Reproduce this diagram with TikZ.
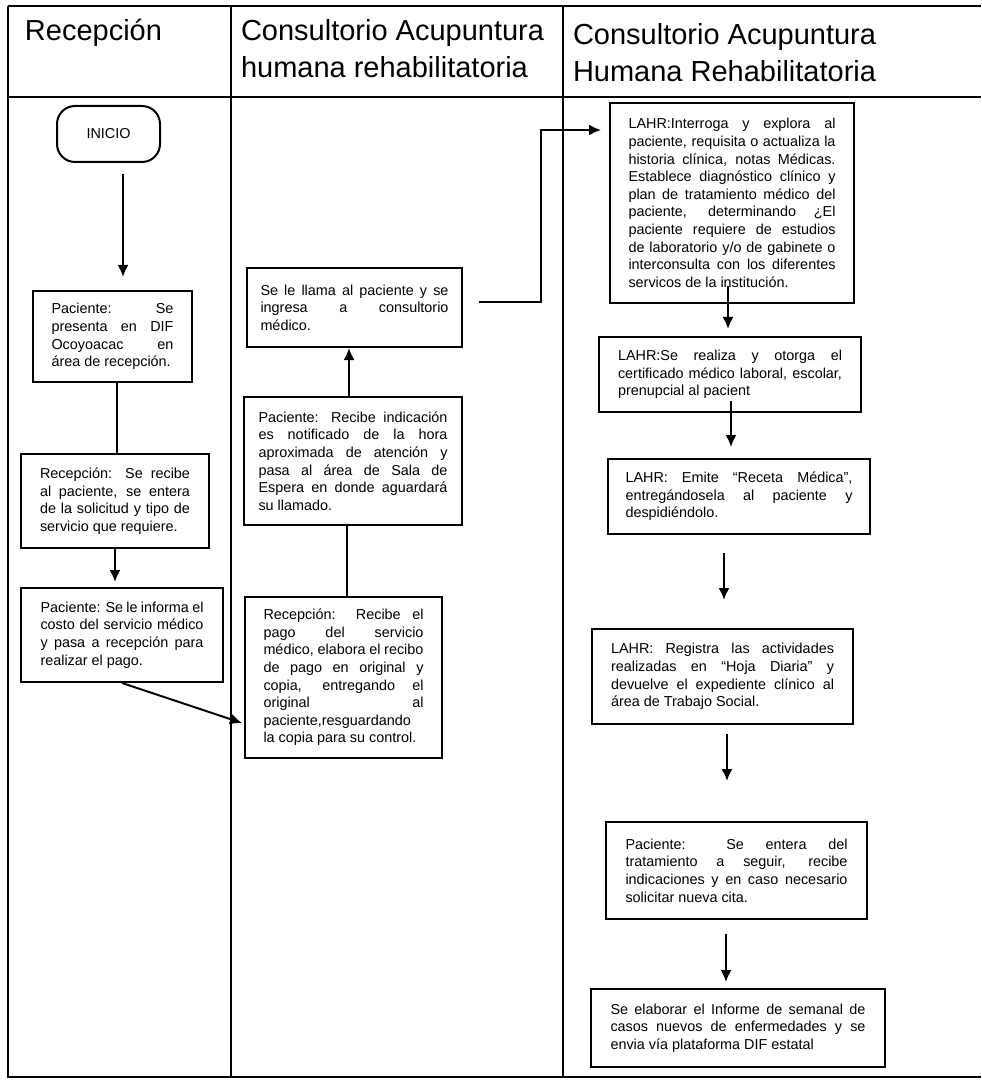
\documentclass[tikz,border=0pt]{standalone}
\usepackage{fontspec}
\setmainfont{Liberation Sans}
\usetikzlibrary{arrows.meta, positioning, calc}

\begin{document}
\begin{tikzpicture}[x=0.5pt, y=-0.5pt, >={Latex[length=6pt,width=5.5pt]}, line width=1pt]
    % Styles
    \tikzstyle{paso} = [rectangle, draw, align=justify, inner sep=0pt, font={\fontsize{7.2}{8.8}\selectfont\tolerance=10000\hbadness=10000\hyphenpenalty=10000}]
    \tikzstyle{inicio} = [rectangle, rounded corners=9pt, draw, inner sep=0pt, font={\fontsize{7.2}{8.8}\selectfont}]
    \tikzstyle{carril} = [anchor=north west, inner sep=0pt, align=left, font={\fontsize{14.5}{18.5}\selectfont}]

    \useasboundingbox (0,0) rectangle (981,1080);

    % Lanes
    \draw (8,6) -- (981,6);
    \draw (8,6) -- (8,1077) -- (981,1077);
    \draw (8,97) -- (981,97);
    \draw (231,6) -- (231,1077);
    \draw (563,6) -- (563,1077);

    \node [carril] (recepcion) at (24,18) {Recepción};
    \node [carril] (consultorio) at (240,18) {Consultorio Acupuntura\\humana rehabilitatoria};
    \node [carril] (lahr) at (572,22) {Consultorio Acupuntura\\Humana Rehabilitatoria};

    % Nodes
    \node [inicio, minimum width=51.5pt, minimum height=28pt] (ini) at (108.5,134) {INICIO};
    \node [paso, text width=61pt, minimum width=79.5pt, minimum height=45.5pt] (pres) at (112.5,336.5)
        {Paciente: Se\linebreak presenta en DIF\linebreak Ocoyoacac en\linebreak área de recepción.};
    \node [paso, text width=75pt, minimum width=94pt, minimum height=47pt] (recib) at (115,501)
        {Recepción: Se recibe\linebreak al paciente, se entera\linebreak de la solicitud y tipo de\linebreak servicio que requiere.};
    \node [paso, text width=81.5pt, minimum width=101pt, minimum height=47pt] (costo) at (122,635)
        {Paciente: Se le informa el\linebreak costo del servicio médico\linebreak y pasa a recepción para\linebreak realizar el pago.};

    \node [paso, text width=94pt, minimum width=107.5pt, minimum height=39.5pt] (llama) at (354.5,307.5)
        {Se le llama al paciente y se\linebreak ingresa a consultorio\linebreak médico.};
    \node [paso, text width=94.5pt, minimum width=109pt, minimum height=64pt] (espera) at (353,461)
        {Paciente: Recibe indicación\linebreak es notificado de la hora\linebreak aproximada de atención y\linebreak pasa al área de Sala de\linebreak Espera en donde aguardará\linebreak su llamado.};
    \node [paso, text width=80pt, minimum width=98.5pt, minimum height=80.5pt] (pago) at (343.5,677.5)
        {Recepción: Recibe el\linebreak pago del servicio\linebreak médico, elabora el recibo\linebreak de pago en original y\linebreak copia, entregando el\linebreak original al\linebreak paciente,resguardando\newline la copia para su control.};

    \node [paso, text width=103.5pt, minimum width=122pt, minimum height=100pt] (lahr1) at (732,203)
        {LAHR:Interroga y explora al\linebreak paciente, requisita o actualiza la\linebreak historia clínica, notas Médicas.\linebreak Establece diagnóstico clínico y\linebreak plan de tratamiento médico del\linebreak paciente, determinando ¿El\linebreak paciente requiere de estudios\linebreak de laboratorio y/o de gabinete o\linebreak interconsulta con los diferentes\linebreak servicos de la institución.};
    \node [paso, text width=112pt, minimum width=131pt, minimum height=37.5pt] (lahr2) at (730,374.5)
        {LAHR:Se realiza y otorga el\linebreak certificado médico laboral, escolar,\linebreak prenupcial al pacient};
    \node [paso, text width=113.5pt, minimum width=131pt, minimum height=37.5pt] (lahr3) at (739,496.5)
        {LAHR: Emite “Receta Médica”,\linebreak entregándosela al paciente y\linebreak despidiéndolo.};
    \node [paso, text width=111.5pt, minimum width=130.5pt, minimum height=47.5pt] (lahr4) at (722.5,676.5)
        {LAHR: Registra las actividades\linebreak realizadas en “Hoja Diaria” y\linebreak devuelve el expediente clínico al\linebreak área de Trabajo Social.};
    \node [paso, text width=111pt, minimum width=130.5pt, minimum height=48.5pt] (pac5) at (736.5,870.5)
        {Paciente: Se entera del\linebreak tratamiento a seguir, recibe\linebreak indicaciones y en caso necesario\linebreak solicitar nueva cita.};
    \node [paso, text width=127.5pt, minimum width=147pt, minimum height=39pt] (inf6) at (738,1028)
        {Se elaborar el Informe de semanal de\linebreak casos nuevos de enfermedades y se\linebreak envia vía plataforma DIF estatal};

    % Connections
    % Recepcion
    \draw[->] ([xshift=7.25pt, yshift=-5.5pt]ini.south) -- ([xshift=5.25pt, yshift=6.5pt]pres.north);
    \draw ([xshift=2pt]pres.south) -- ([xshift=2pt]pres.south |- recib.north);
    \draw[->, shorten >=2.5pt] (recib.south) -- (recib.south |- costo.north);
    \draw[->] (costo.south) -- ([xshift=-1pt, yshift=-22.75pt]pago.west);

    % Consultorio
    \draw ([xshift=1.75pt]pago.north) -- ([xshift=1.75pt]pago.north |- espera.south);
    \draw[->] ([xshift=-2pt]espera.north) -- ([xshift=-2pt]espera.north |- llama.south);
    \draw[->] ([xshift=8pt, yshift=2.75pt]llama.east) -- ++(62,0) |- ([xshift=-4pt, yshift=36.5pt]lahr1.west);

    % LAHR
    \draw[->] ([xshift=-2pt, yshift=9pt]lahr1.south) -- ([xshift=-1pt, yshift=3.5pt]lahr2.north);
    \draw[->] ([xshift=0.5pt, yshift=6pt]lahr2.south) -- ([xshift=-4pt, yshift=5.5pt]lahr3.north);
    \draw[->] ([xshift=-7.5pt, yshift=-9pt]lahr3.south) -- ([xshift=0.75pt, yshift=14pt]lahr4.north);
    \draw[->] ([xshift=2.25pt, yshift=-4.5pt]lahr4.south) -- ([xshift=-4.75pt, yshift=20pt]pac5.north);
    \draw[->] ([xshift=-5.25pt, yshift=-7pt]pac5.south) -- ([xshift=-6pt, yshift=3pt]inf6.north);

\end{tikzpicture}
\end{document}
